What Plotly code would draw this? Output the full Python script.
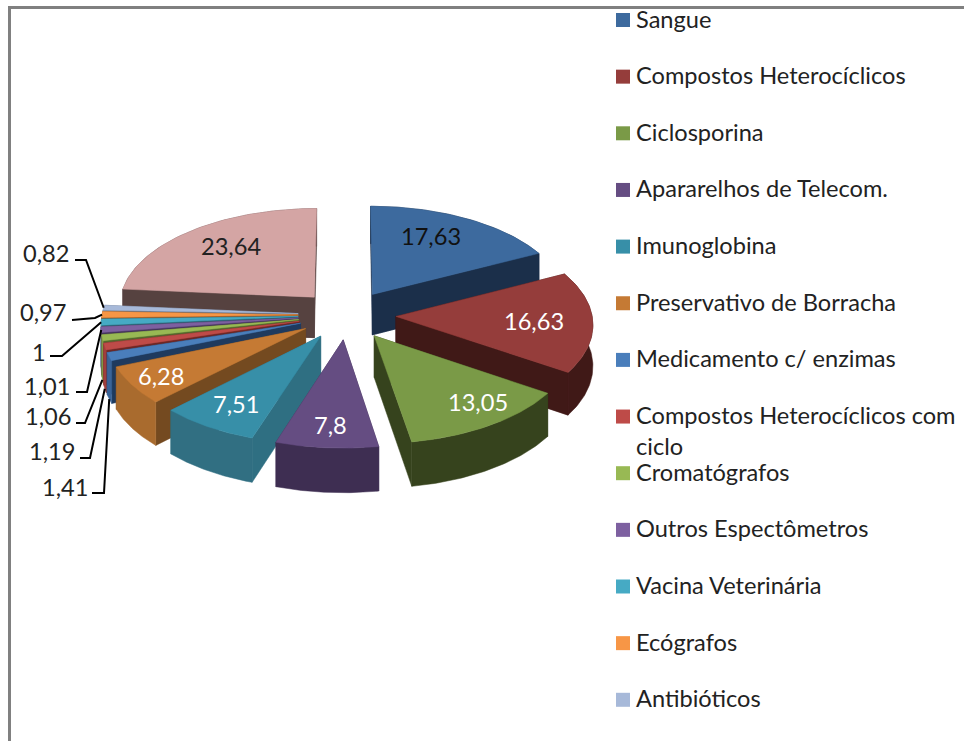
import numpy as np
import plotly.graph_objects as go

legend_names = ["Sangue", "Compostos Heterocíclicos", "Ciclosporina", "Apararelhos de Telecom.",
                "Imunoglobina", "Preservativo de Borracha", "Medicamento c/ enzimas",
                "Compostos Heterocíclicos com<br>ciclo", "Cromatógrafos", "Outros Espectômetros",
                "Vacina Veterinária", "Ecógrafos", "Antibióticos"]
values = [17.63, 16.63, 13.05, 7.8, 7.51, 6.28, 1.41, 1.19, 1.06, 1.01, 1, 0.97, 0.82, 23.64]
value_labels = ["17,63", "16,63", "13,05", "7,8", "7,51", "6,28", "1,41", "1,19", "1,06", "1,01", "1", "0,97", "0,82", "23,64"]

top_colors = ["#3D6A9E", "#953D3B", "#7A9A47", "#654D82", "#378FA8", "#C57A34", "#4A7EBB",
              "#BE4B48", "#98B954", "#7D60A0", "#46AAC4", "#F79646", "#A7B9D9", "#D4A5A4"]
radial_colors = ["#1B2F4A", "#401917", "#36431D", "#3E2E52", "#2F6F82", "#744A20", "#1F3A5E",
                 "#6E2826", "#55682E", "#46365C", "#27606F", "#8C5426", "#5E6A7E", "#564240"]
arc_colors = ["#1B2F4A", "#401917", "#36431D", "#3E2E52", "#316F82", "#A96B2E", "#3A6498",
              "#A03F3D", "#7F9B46", "#684F86", "#3A8FA5", "#CF7D3A", "#8B9BB6", "#6A5150"]
label_colors = ["#111111", "white", "white", "white", "white", "white"] + ["#222222"] * 7 + ["#222222"]

# layout of the drawing (pixels on the hidden axes)
CX, CY, RX, RY, PERSP, EXPLODE, DEPTH = 347, 315, 196, 98, 0.07, 0.25, 41
LABEL_R = {1: 0.70, 2: 0.80, 3: 0.80, 4: 0.76, 5: 0.84}
LABEL_R_DEFAULT = 0.72
LABEL_TURN = {0: -4.8, 2: -5.0, 13: 3.3}
FONT = "Lato"
LABEL_SIZE = 23.6
LEADER = {6: ((65, 487), (92, 493), (104, 493)), 7: ((52, 451), (80, 458), (90, 458)),
          8: ((48, 416), (76, 423), (85, 423)), 9: ((47, 386), (76, 392), (87, 392)),
          10: ((39, 352), (50, 356), (62, 356)), 11: ((43, 312), (72, 320), (95, 318)),
          12: ((46, 253), (75, 260), (86, 260))}
LEADER_AT_BASE = {6, 7, 8}


def project(u, v, drop=0.0):
    s = 1 + PERSP * np.asarray(v)
    return CX + RX * np.asarray(u) * s, CY + RY * np.asarray(v) * s + drop * s


def poly(fig, x, y, color):
    fig.add_trace(go.Scatter(x=np.r_[x, x[0]], y=np.r_[y, y[0]], mode="lines", fill="toself",
                             fillcolor=color, line=dict(color=color, width=0.5),
                             hoverinfo="skip", showlegend=False))


fig = go.Figure()
total = sum(values)
edges = np.r_[0, np.cumsum(values)] / total * 2 * np.pi
mids = (edges[:-1] + edges[1:]) / 2
offs = [(EXPLODE * np.sin(m), -EXPLODE * np.cos(m)) for m in mids]

for i in sorted(range(len(values)), key=lambda k: offs[k][1] + 0.6 * (-np.cos(mids[k]))):
    a0, a1 = edges[i], edges[i + 1]
    du, dv = offs[i]
    th = np.linspace(a0, a1, 60)
    au, av = du + np.sin(th), dv - np.cos(th)
    tx, ty = project(au, av)
    bx, by = project(au, av, DEPTH)
    px, py = project(du, dv)
    qx, qy = project(du, dv, DEPTH)
    walls = [(np.array([px, tx[0], bx[0], qx]), np.array([py, ty[0], by[0], qy]), (dv + av[0]) / 2),
             (np.array([px, tx[-1], bx[-1], qx]), np.array([py, ty[-1], by[-1], qy]), (dv + av[-1]) / 2)]
    for wx, wy, _ in sorted(walls, key=lambda w: w[2]):
        poly(fig, wx, wy, radial_colors[i])
    poly(fig, np.r_[tx, bx[::-1]], np.r_[ty, by[::-1]], arc_colors[i])
    front = max(walls, key=lambda w: w[2])
    if front[2] > np.mean(av):
        poly(fig, front[0], front[1], radial_colors[i])
    poly(fig, np.r_[px, tx], np.r_[py, ty], top_colors[i])

annotations = []
for i, m in enumerate(mids):
    du, dv = offs[i]
    if i in LEADER:
        tx, ty = project(du + np.sin(m), dv - np.cos(m), DEPTH if i in LEADER_AT_BASE else 0)
        (lx, ly), e0, e1 = LEADER[i]
        fig.add_trace(go.Scatter(x=[e0[0], e1[0], float(tx)], y=[e0[1], e1[1], float(ty)], mode="lines",
                                 line=dict(color="black", width=2), hoverinfo="skip", showlegend=False))
        annotations.append(dict(x=lx, y=ly, text=value_labels[i], showarrow=False,
                                font=dict(family=FONT, size=LABEL_SIZE, color=label_colors[i])))
    else:
        r = LABEL_R.get(i, LABEL_R_DEFAULT)
        t = m + np.radians(LABEL_TURN.get(i, 0))
        x, y = project(du + r * np.sin(t), dv - r * np.cos(t))
        annotations.append(dict(x=float(x), y=float(y), text=value_labels[i], showarrow=False,
                                font=dict(family=FONT, size=LABEL_SIZE, color=label_colors[i])))

# legend: evenly spaced swatches and names
LEG_X, LEG_Y0, LEG_STEP = 623, 20, 56.65
leg_y = [LEG_Y0 + LEG_STEP * k for k in range(len(legend_names))]
fig.add_trace(go.Scatter(x=[LEG_X] * len(legend_names), y=leg_y, mode="markers",
                         marker=dict(symbol="square", size=14, color=top_colors[:len(legend_names)], line=dict(width=0)),
                         hoverinfo="skip", showlegend=False))
for name, y in zip(legend_names, leg_y):
    annotations.append(dict(x=LEG_X + 11, y=y - 17.5, text=name, showarrow=False, xanchor="left", yanchor="top",
                            align="left", font=dict(family=FONT, size=LABEL_SIZE, color="#222222")))

fig.update_layout(
    width=964, height=741, margin=dict(l=0, r=0, t=0, b=0), showlegend=False,
    paper_bgcolor="white", plot_bgcolor="white", annotations=annotations,
    xaxis=dict(range=[0, 964], visible=False, fixedrange=True),
    yaxis=dict(range=[741, 0], visible=False, fixedrange=True),
    shapes=[dict(type="line", x0=8, x1=964, y0=7.5, y1=7.5, line=dict(color="#808080", width=3)),
            dict(type="line", x0=9.5, x1=9.5, y0=6, y1=741, line=dict(color="#808080", width=3))],
)
fig.write_html("out.html", config={"displayModeBar": False},
               post_script="document.body.style.margin='0';document.body.style.overflow='hidden';")
